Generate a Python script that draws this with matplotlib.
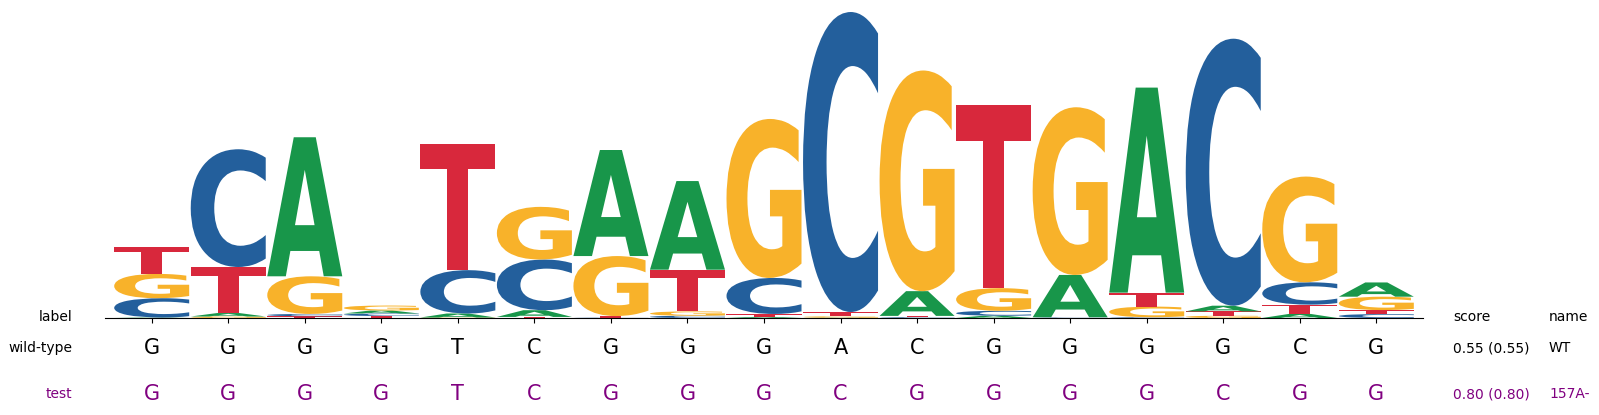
import matplotlib
matplotlib.use("Agg")
import matplotlib.pyplot as plt
import numpy as np
from matplotlib.textpath import TextPath
from matplotlib.patches import PathPatch
from matplotlib.font_manager import FontProperties
from matplotlib.transforms import Affine2D, blended_transform_factory

# information content (bits) per position, one list per base
BASES = ["A", "C", "G", "T"]
A_BITS = [0.003, 0.023, 0.927, 0.020, 0.027, 0.045, 0.707, 0.591, 0.007,
          0.002, 0.165, 0.015, 0.282, 1.367, 0.038, 0.027, 0.095]
C_BITS = [0.129, 0.785, 0.015, 0.017, 0.289, 0.338, 0.002, 0.015, 0.240,
          2.000, 0.005, 0.033, 0.003, 0.005, 1.780, 0.149, 0.026]
G_BITS = [0.162, 0.010, 0.251, 0.033, 0.003, 0.351, 0.400, 0.029, 1.060,
          0.009, 1.471, 0.151, 1.118, 0.071, 0.015, 0.705, 0.089]
T_BITS = [0.178, 0.307, 0.012, 0.013, 0.840, 0.007, 0.011, 0.278, 0.020,
          0.029, 0.009, 1.220, 0.002, 0.093, 0.029, 0.062, 0.027]

# sequence rows under the logo
ROW_NAMES = ["wild-type", "test"]
ROW_SEQS = ["GGGGTCGGGACGGGGCG", "GGGGTCGGGCGGGGCGG"]
ROW_SCORES = ["0.55 (0.55)", "0.80 (0.80)"]
ROW_IDS = ["WT", "157A-"]
ROW_COLORS = ["black", "purple"]

COLORS = {"A": "#18964a", "C": "#235f9c", "G": "#f8b22a", "T": "#d8283c"}
FONT = FontProperties(family="DejaVu Sans", weight="bold")


def draw_letter(ax, letter, x, y, h, w=0.98):
    # stretch glyph to fill the box [x-w/2, x+w/2] x [y, y+h]
    tp = TextPath((0, 0), letter, size=1, prop=FONT)
    ext = tp.get_extents()
    tr = (Affine2D().translate(-ext.x0, -ext.y0)
          .scale(w / ext.width, h / ext.height)
          .translate(x - w / 2, y))
    path = tr.transform_path(tp)
    ax.add_patch(PathPatch(path, facecolor=COLORS[letter], edgecolor="none", lw=0))


W, H = 1599, 415
fig = plt.figure(figsize=(W / 100, H / 100), dpi=100)
ax_l, ax_r, ax_b, ax_t = 105, 1423, 318, 10
ax = fig.add_axes([ax_l / W, 1 - ax_b / H, (ax_r - ax_l) / W, (ax_b - ax_t) / H])

mat = np.array([A_BITS, C_BITS, G_BITS, T_BITS])
n = mat.shape[1]
for i in range(n):
    order = np.argsort(mat[:, i], kind="stable")
    y = 0.0
    for k in order:
        h = mat[k, i]
        draw_letter(ax, BASES[k], i, y, h)
        y += h

ax.set_xlim(-0.61, n - 1 + 0.61)
ax.set_ylim(0, (ax_b - ax_t) / 150)
for s in ["left", "top", "right"]:
    ax.spines[s].set_visible(False)
ax.set_yticks([])
ax.set_xticks(range(n))
ax.set_xticklabels([])

trans = blended_transform_factory(ax.transData, fig.transFigure)
fy = lambda py: 1 - py / H

fig.text(72.7 / W, fy(317), "label", ha="right", va="center", fontsize=10)
fig.text(1453 / W, fy(317), "score", ha="left", va="center", fontsize=10)
fig.text(1549 / W, fy(317), "name", ha="left", va="center", fontsize=10)

row_y = [348, 394]
for name, seq, score, rid, col, py in zip(ROW_NAMES, ROW_SEQS, ROW_SCORES,
                                          ROW_IDS, ROW_COLORS, row_y):
    fig.text(72.7 / W, fy(py), name, ha="right", va="center", fontsize=10, color=col)
    for i, ch in enumerate(seq):
        ax.text(i, fy(py), ch, transform=trans, ha="center", va="center",
                fontsize=15, color=col)
    fig.text(1453 / W, fy(py), score, ha="left", va="center", fontsize=10, color=col)
    fig.text(1549 / W, fy(py), rid, ha="left", va="center", fontsize=10, color=col)

fig.savefig("out.png", dpi=100)
